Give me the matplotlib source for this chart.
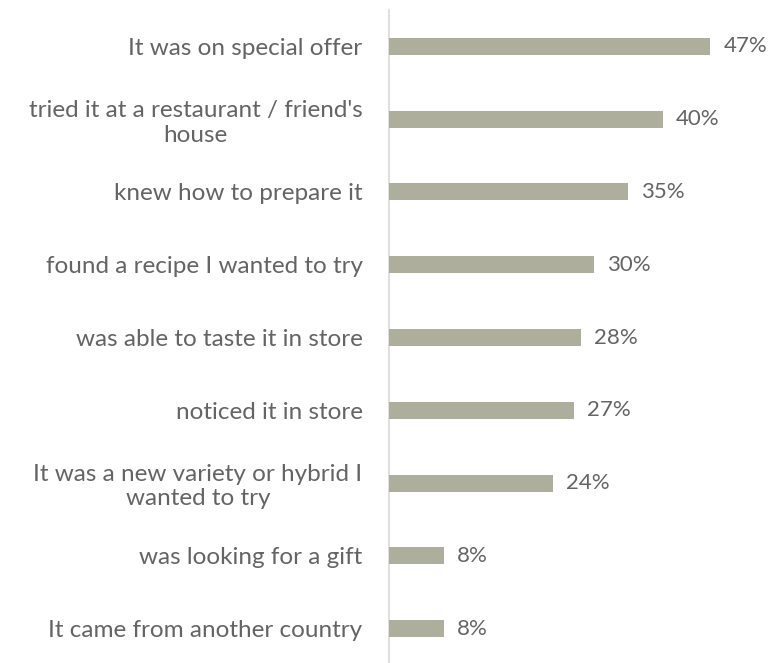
import matplotlib
matplotlib.use('Agg')
import matplotlib.pyplot as plt
import numpy as np

# reasons for purchase, top to bottom
reasons = [
    "It was on special offer",
    "tried it at a restaurant / friend's\nhouse",
    "knew how to prepare it",
    "found a recipe I wanted to try",
    "was able to taste it in store",
    "noticed it in store",
    "It was a new variety or hybrid I\nwanted to try",
    "was looking for a gift",
    "It came from another country",
]
shares = [47, 40, 35, 30, 28, 27, 24, 8, 8]

BAR_COLOR = '#ADAE9C'
TEXT_COLOR = '#646464'
AXIS_COLOR = '#D9D9D9'

plt.rcParams['font.family'] = ['Lato', 'DejaVu Sans']

fig = plt.figure(figsize=(7.84, 6.63), dpi=100)
ax = fig.add_axes([389 / 784, -2 / 663, 342 / 784, 655 / 663])

y = np.arange(len(reasons))
ax.barh(y, shares, height=0.235, color=BAR_COLOR, zorder=3)

for yi, v in zip(y, shares):
    ax.text(v + 1.9, yi, f'{v}%', va='center', ha='left', fontsize=16, color=TEXT_COLOR)

ax.set_yticks(y)
ax.set_yticklabels(reasons, fontsize=17.5, color=TEXT_COLOR, ha='right',
                   multialignment='center', linespacing=1.2)
ax.tick_params(axis='y', length=0, pad=19)
ax.set_ylim(len(reasons) - 0.5, -0.5)
ax.set_xlim(0, 50)
ax.set_xticks([])

for s in ['top', 'right', 'bottom']:
    ax.spines[s].set_visible(False)
ax.spines['left'].set_color(AXIS_COLOR)
ax.spines['left'].set_linewidth(1.2)

fig.savefig('out.png', dpi=100)
